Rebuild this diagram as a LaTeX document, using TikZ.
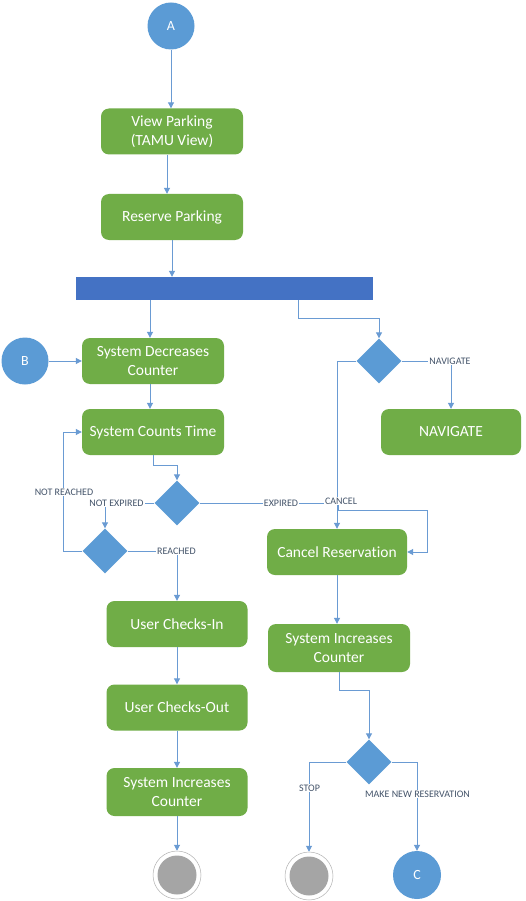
\documentclass[tikz,border=0pt]{standalone}
\usepackage{fontspec}
\setmainfont{Carlito}[Ligatures=NoCommon]
\usetikzlibrary{shapes.geometric,arrows.meta}
\definecolor{actgreen}{HTML}{70AD47}
\definecolor{nodeblue}{HTML}{5B9BD5}
\definecolor{barblue}{HTML}{4472C4}
\definecolor{linkblue}{HTML}{6A9BD3}
\definecolor{labelgray}{HTML}{44546A}
\definecolor{finalgray}{HTML}{A5A5A5}
\begin{document}
\begin{tikzpicture}[x=1pt,y=-1pt,
  act/.style={rectangle, rounded corners=8pt, fill=actgreen, text=white, minimum width=142pt, minimum height=46pt, inner sep=0pt, align=center, font=\fontsize{15.5}{19}\selectfont},
  conn/.style={circle, fill=nodeblue, text=white, minimum size=47pt, inner sep=0pt, font=\fontsize{14}{16}\selectfont},
  dec/.style={diamond, fill=nodeblue, minimum width=45pt, minimum height=45pt, inner sep=0pt},
  fin/.style={circle, draw=gray!60, fill=white, minimum size=48pt, inner sep=0pt, line width=0.5pt,
     path picture={\fill[finalgray] (path picture bounding box.center) circle (19.5pt);}},
  lbl/.style={fill=white, text=labelgray, font=\fontsize{10}{12}\selectfont, inner sep=1pt},
  flow/.style={draw=linkblue, line width=1pt, -{Triangle[length=6pt,width=6pt]}},
  plain/.style={draw=linkblue, line width=1pt},
]
\useasboundingbox[fill=white] (0,0) rectangle (526,901);

% nodes
\node[conn] (A) at (171,26) {A};
\node[act] (view) at (172,131.5) {View Parking\\(TAMU View)};
\node[act] (reserve) at (172,217) {Reserve Parking};
\node[rectangle, fill=barblue, minimum width=297pt, minimum height=23pt, inner sep=0pt] (bar) at (224.5,288.5) {};
\coordinate (barR) at (298,300);
\node[conn] (B) at (25,361) {B};
\node[act] (sysdec) at (153,361) {System Decreases\\Counter};
\node[dec] (d1) at (379,361) {};
\node[act] (counts) at (153,432) {System Counts Time};
\node[act, minimum width=140pt] (nav) at (451,432) {NAVIGATE};
\node[dec] (d2) at (177,503) {};
\node[dec] (d3) at (105,551) {};
\node[act, minimum width=140pt] (cancel) at (337,552) {Cancel Reservation};
\node[act, minimum width=141pt] (checkin) at (177,624) {User Checks-In};
\node[act, minimum width=141pt] (checkout) at (177,707.5) {User Checks-Out};
\node[act, minimum width=141pt, minimum height=48pt] (sysinc1) at (177,792) {System Increases\\Counter};
\node[fin] (fin1) at (177,875) {};
\node[act, minimum width=142pt, minimum height=48pt] (sysinc2) at (339,648) {System Increases\\Counter};
\node[dec] (d4) at (369,762) {};
\node[fin] (fin2) at (309,876) {};
\node[conn, minimum size=48pt] (C) at (417,875) {C};

\coordinate (loopc) at (63,432);
\coordinate (e1) at (338,503);
\coordinate (e2) at (427,510);

% connectors
\draw[flow] (A.south) -- (A.south |- view.north);
\draw[flow] ([xshift=-5pt]view.south) -- ([xshift=-5pt]reserve.north);
\draw[flow] (reserve.south) -- (reserve.south |- bar.north);
\draw[flow] ([xshift=-3pt]sysdec.north |- bar.south) -- ([xshift=-3pt]sysdec.north);
\draw[flow] (barR) -- ++(0,18.5) -| (d1.north);
\draw[flow] (B.east) -- (sysdec.west);
\draw[flow] (d1.east) -| (nav.north);
\node[lbl] (lnav) at (450,361) {NAVIGATE};
\draw[flow] ([xshift=-3pt]sysdec.south) -- ([xshift=-3pt]counts.north);
\draw[flow] (counts.south) -- ++(0,10) -| (d2.north);
\draw[plain] (d2.west) -- (130,503);
\node[lbl] (lne) at (116.5,503) {NOT EXPIRED};
\draw[flow] (lne.south -| d3.north) -- (d3.north);
\draw[flow] (d3.west) -| (loopc) -- (counts.west);
\node[lbl] (lnr) at (64,492) {NOT REACHED};
\draw[flow] (d3.east) -| (checkin.north);
\node[lbl] (lr) at (176.5,551) {REACHED};
\draw[flow] (d2.east) -- (e1) |- (e2) |- (cancel.east);
\node[lbl] (lex) at (281,503) {EXPIRED};
\draw[flow] (d1.west) -| (cancel.north);
\node[lbl] (lca) at (341,501) {CANCEL};
\draw[flow] (checkin.south) -- (checkout.north);
\draw[flow] (checkout.south) -- (sysinc1.north);
\draw[flow] (sysinc1.south) -- (fin1.north);
\draw[flow] (cancel.south) -- (cancel.south |- sysinc2.north);
\draw[flow] (sysinc2.south) -- ++(0,18) -| (d4.north);
\draw[flow] (d4.west) -| (fin2.north);
\node[lbl] (lst) at (309.5,788) {STOP};
\draw[flow] (d4.east) -| (C.north);
\node[lbl] (lmn) at (417.5,794) {MAKE NEW RESERVATION};
\end{tikzpicture}
\end{document}
